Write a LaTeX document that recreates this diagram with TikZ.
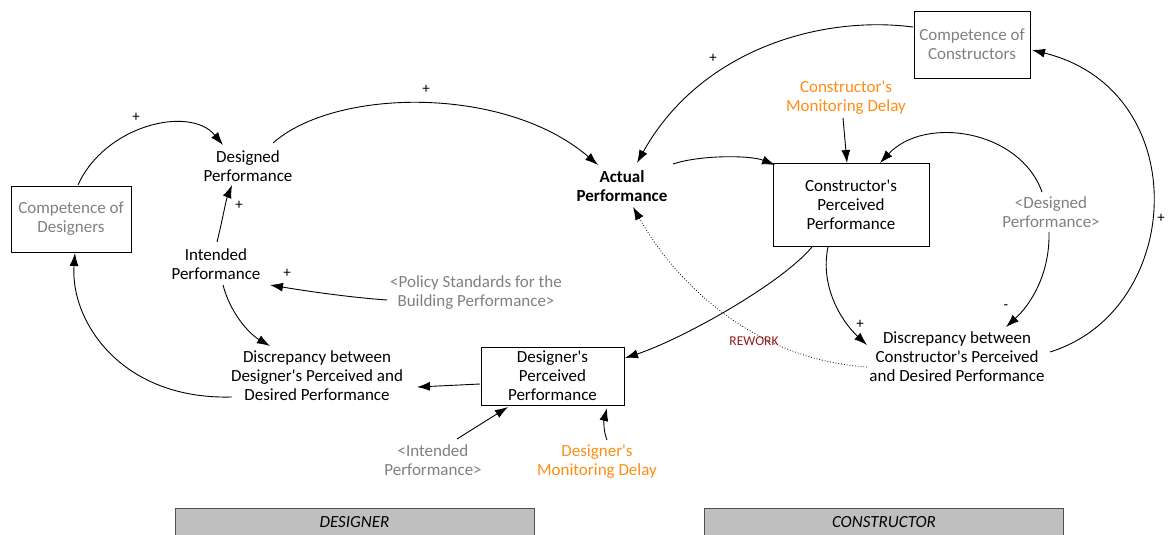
\documentclass[tikz,border=0pt]{standalone}
\usepackage{fontspec}
\setmainfont{Carlito}[Ligatures=TeXOff]
\usetikzlibrary{arrows.meta}
\definecolor{vargray}{RGB}{128,128,128}
\definecolor{delayorange}{RGB}{255,140,20}
\definecolor{reworkred}{RGB}{150,25,25}
\definecolor{bannerfill}{RGB}{191,191,191}
\definecolor{bannerline}{RGB}{80,80,80}
\begin{document}
\begin{tikzpicture}[x=1pt,y=-1pt,
  lbl/.style={align=center,font=\fontsize{17}{19}\selectfont,inner sep=0pt},
  shadowvar/.style={lbl,text=vargray},
  delayvar/.style={lbl,text=delayorange},
  levelbox/.style={lbl,draw,line width=0.9pt},
  sign/.style={font=\fontsize{15}{15}\selectfont,inner sep=0pt},
  banner/.style={lbl,draw=bannerline,line width=0.9pt,fill=bannerfill,
    minimum width=359pt,minimum height=28pt,font=\fontsize{17}{19}\selectfont\itshape},
  conn/.style={line width=0.9pt,-{Latex[length=13pt,width=9pt]}},
  rework/.style={line width=0.8pt,dotted,-{Latex[length=13pt,width=9pt]}},
]
\useasboundingbox (0,0) rectangle (1168,535);
\clip (0,0) rectangle (1168,535);

% ---------- variables ----------
\node[levelbox,text=vargray,minimum width=120pt,minimum height=66pt] (cd) at (71,219) {Competence of\\Designers};
\node[lbl] (dsp) at (248,166) {Designed\\Performance};
\node[lbl] (ip) at (216,264) {Intended\\Performance};
\node[lbl] (ddp) at (317,376) {Discrepancy between\\Designer's Perceived and\\Desired Performance};
\node[levelbox,minimum width=143pt,minimum height=58pt] (dpp) at (552.5,376) {Designer's\\Perceived\\Performance};
\node[shadowvar] (iph) at (433,460) {<Intended\\Performance>};
\node[delayvar] (dmd) at (597,462) {Designer's\\Monitoring Delay};
\node[shadowvar] (pol) at (476,293) {<Policy Standards for the\\Building Performance>};
\node[lbl,font=\fontsize{17}{19}\selectfont\bfseries] (ap) at (622,186) {Actual\\Performance};
\node[levelbox,minimum width=156pt,minimum height=83pt] (cpp) at (851,204.5) {Constructor's\\Perceived\\Performance};
\node[delayvar] (cmd) at (846,98) {Constructor's\\Monitoring Delay};
\node[levelbox,text=vargray,minimum width=116pt,minimum height=67pt] (cc) at (972,44.5) {Competence of\\Constructors};
\node[shadowvar] (dgh) at (1051,212) {<Designed\\Performance>};
\node[lbl] (dcp) at (957,357) {Discrepancy between\\Constructor's Perceived\\and Desired Performance};

% ---------- sector banners ----------
\node[banner] (designer) at (354.5,522) {DESIGNER};
\node[banner] (constructor) at (884,522) {CONSTRUCTOR};

% ---------- causal links ----------
\draw[conn] ([shift={(7,-34)}]cd.center) .. controls (105,125) and (190,105) .. ([shift={(-25,-21)}]dsp.center);
\draw[conn] ([shift={(1,-22)}]ip.center) .. controls (222,222) and (226,200) .. ([shift={(-16,19)}]dsp.center);
\draw[conn] ([shift={(25,-23)}]dsp.center) .. controls (335,88) and (505,85) .. ([shift={(-24,-21)}]ap.center);
\draw[conn] ([shift={(-59,-17.5)}]cc.center) .. controls (820,15) and (700,50) .. ([shift={(15,-23)}]ap.center);
\draw[conn] ([shift={(51,-22)}]ap.center) .. controls (700,155) and (750,155) .. ([shift={(-76,-39.5)}]cpp.center);
\draw[conn] ([shift={(-3,20)}]cmd.center) -- ([shift={(-4,-41.5)}]cpp.center);
\draw[conn] ([shift={(-9,-20)}]dgh.center) .. controls (1020,130) and (925,115) .. ([shift={(29,-41.5)}]cpp.center);
\draw[conn] ([shift={(-2,20)}]dgh.center) .. controls (1050,275) and (1030,305) .. ([shift={(49,-30)}]dcp.center);
\draw[conn] ([shift={(-23,42.5)}]cpp.center) .. controls (820,285) and (840,320) .. ([shift={(-90,-12)}]dcp.center);
\draw[conn] ([shift={(-39,42.5)}]cpp.center) .. controls (780,285) and (680,340) .. ([shift={(72.5,-18)}]dpp.center);
\draw[conn] ([shift={(93,-5)}]dcp.center) .. controls (1185,310) and (1195,90) .. ([shift={(60,5.5)}]cc.center);
\draw[rework] ([shift={(-90,10)}]dcp.center) .. controls (760,360) and (680,290) .. ([shift={(11,21)}]ap.center);
\draw[conn] ([shift={(-72.5,8)}]dpp.center) -- ([shift={(100,11)}]ddp.center);
\draw[conn] ([shift={(24,-21)}]iph.center) -- ([shift={(-44.5,31)}]dpp.center);
\draw[conn] ([shift={(10,-22)}]dmd.center) .. controls (603,430) and (604,420) .. ([shift={(54.5,32)}]dpp.center);
\draw[conn] ([shift={(7,21)}]ip.center) .. controls (230,312) and (248,333) .. ([shift={(-47,-30)}]ddp.center);
\draw[conn] ([shift={(-89,7)}]pol.center) .. controls (345,297) and (300,290) .. ([shift={(54,21)}]ip.center);
\draw[conn] ([shift={(-85,21)}]ddp.center) .. controls (120,400) and (70,320) .. ([shift={(4,34)}]cd.center);

% ---------- polarities and loop label ----------
\node[sign] (s1) at (136,117) {+};
\node[sign] (s2) at (239,205) {+};
\node[sign] (s3) at (426,89) {+};
\node[sign] (s4) at (713,58) {+};
\node[sign] (s5) at (287,273) {+};
\node[sign] (s6) at (860,324) {+};
\node[sign] (s7) at (1006,307) {-};
\node[sign] (s8) at (1161,218) {+};
\node[font=\fontsize{13.5}{14}\selectfont,text=reworkred,inner sep=0pt] (rw) at (754,341) {REWORK};
\end{tikzpicture}
\end{document}
